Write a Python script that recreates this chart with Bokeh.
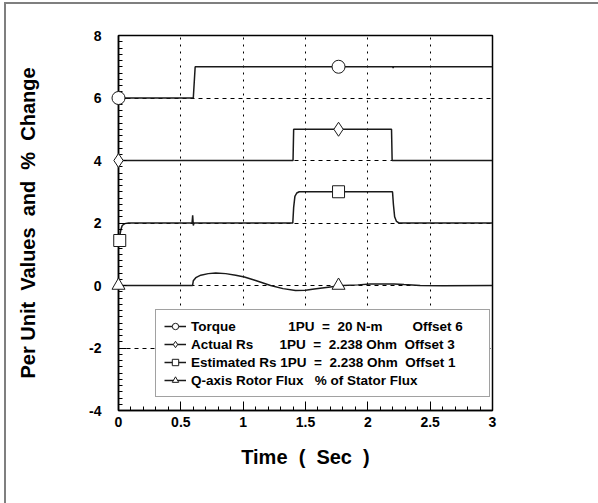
from bokeh.plotting import figure
from bokeh.models import Range1d, SingleIntervalTicker, Legend, LegendItem
from bokeh.embed import file_html
from bokeh.resources import INLINE

# ---------------- data ----------------
torque_t = [0.0, 0.6, 0.615, 2.2, 2.203, 2.206, 3.0]
torque_y = [6.0, 6.0, 7.0, 7.0, 6.96, 7.0, 7.0]

actual_rs_t = [0.0, 1.4, 1.405, 2.19, 2.195, 3.0]
actual_rs_y = [4.0, 4.0, 5.0, 5.0, 4.0, 4.0]

est_rs_t = [0.0, 0.01, 0.02, 0.03, 0.05, 0.08, 0.59, 0.595, 0.6, 0.605,
            1.398, 1.405, 1.415, 1.43, 1.45, 1.48, 2.198, 2.205, 2.215,
            2.23, 2.25, 3.0]
est_rs_y = [1.3, 1.6, 1.8, 1.92, 1.98, 2.0, 2.0, 2.25, 1.92, 2.0,
            2.0, 2.5, 2.85, 2.96, 3.0, 3.0, 3.0, 2.6, 2.2, 2.05, 2.0, 2.0]

flux_t = [0.0, 0.594, 0.6, 0.62, 0.66, 0.72, 0.78, 0.86, 0.94, 1.01, 1.1,
          1.22, 1.32, 1.42, 1.5, 1.57, 1.65, 1.73, 1.8, 1.92, 2.02, 2.12,
          2.21, 2.29, 2.42, 2.6, 3.0]
flux_y = [0.0, 0.0, 0.15, 0.25, 0.33, 0.38, 0.4, 0.38, 0.33, 0.27, 0.16,
          0.0, -0.1, -0.16, -0.15, -0.11, -0.07, -0.03, 0.0, 0.02, 0.05,
          0.05, 0.05, 0.03, 0.0, -0.01, 0.0]

# marker positions
torque_mk_t = [0.0, 1.765]
torque_mk_y = [6.0, 7.0]
actual_mk_t = [0.0, 1.765]
actual_mk_y = [4.0, 5.0]
est_mk_t = [0.01, 1.765]
est_mk_y = [1.44, 3.0]
flux_mk_t = [0.0, 1.765]
flux_mk_y = [0.0, 0.0]

x_ticks = [0, 0.5, 1, 1.5, 2, 2.5, 3]
x_tick_labels = ["0", "0.5", "1", "1.5", "2", "2.5", "3"]
y_ticks = [-4, -2, 0, 2, 4, 6, 8]
y_tick_labels = ["-4", "-2", "0", "2", "4", "6", "8"]

NB = "\u00a0"
legend_labels = [
    "Torque" + NB * 14 + "1PU" + NB * 2 + "=" + NB * 2 + "20 N-m" + NB * 8 + "Offset 6" + NB * 5,
    "Actual Rs" + NB * 7 + "1PU" + NB * 2 + "=" + NB * 2 + "2.238 Ohm" + NB * 2 + "Offset 3",
    "Estimated Rs 1PU" + NB * 2 + "=" + NB * 2 + "2.238 Ohm" + NB * 2 + "Offset 1",
    "Q-axis Rotor Flux" + NB * 3 + "% of Stator Flux",
]

FONT = "Liberation Sans"
INK = "#1a1a1a"

p = figure(width=594, height=501, output_backend="svg", toolbar_location=None,
           x_range=Range1d(0, 3), y_range=Range1d(-4, 8),
           min_border_left=112, min_border_right=108,
           min_border_top=31, min_border_bottom=95)
# outer page frame: only its left and top edges are inside the picture
p.styles = {"margin-left": "4px", "margin-top": "2px",
            "border-left": "2px solid #7f7f7f", "border-top": "2px solid #7f7f7f"}
p.background_fill_color = "white"
p.border_fill_color = "white"
p.outline_line_color = "black"
p.outline_line_width = 1.5

p.xaxis.ticker = SingleIntervalTicker(interval=0.5, num_minor_ticks=5)
p.yaxis.ticker = SingleIntervalTicker(interval=2, num_minor_ticks=10)
p.xaxis.major_label_overrides = {t: s for t, s in zip(x_ticks, x_tick_labels)}
p.yaxis.major_label_overrides = {t: s for t, s in zip(y_ticks, y_tick_labels)}

for ax in (p.xaxis[0], p.yaxis[0]):
    ax.axis_line_color = "black"
    ax.axis_line_width = 1.5
    ax.major_tick_in = 8
    ax.major_tick_out = 0
    ax.minor_tick_in = 4
    ax.minor_tick_out = 0
    ax.major_tick_line_color = "black"
    ax.minor_tick_line_color = "black"
    ax.major_tick_line_width = 1
    ax.minor_tick_line_width = 1
    ax.major_label_text_font = FONT
    ax.major_label_text_font_style = "bold"
    ax.major_label_text_font_size = "14px"
    ax.major_label_text_color = "black"
    ax.axis_label_text_font = FONT
    ax.axis_label_text_font_style = "bold"
    ax.axis_label_text_font_size = "20px"
    ax.axis_label_text_color = "black"

p.xaxis.axis_label = "Time" + NB * 2 + "(" + NB * 2 + "Sec" + NB * 2 + ")"
p.yaxis.axis_label = "Per Unit" + NB * 2 + "Values" + NB * 2 + "and" + NB * 2 + "%" + NB * 2 + "Change"
p.xaxis.major_label_standoff = 6
p.yaxis.major_label_standoff = 17
p.xaxis.axis_label_standoff = 16
p.yaxis.axis_label_standoff = 47

p.xgrid.grid_line_color = "black"
p.xgrid.grid_line_dash = "2 5"
p.xgrid.grid_line_width = 1
p.ygrid.grid_line_color = "black"
p.ygrid.grid_line_dash = "4 4"
p.ygrid.grid_line_width = 1

lw = 1.5
r_tq = p.line(torque_t, torque_y, line_color=INK, line_width=lw)
r_ar = p.line(actual_rs_t, actual_rs_y, line_color=INK, line_width=lw)
r_er = p.line(est_rs_t, est_rs_y, line_color=INK, line_width=lw)
r_fl = p.line(flux_t, flux_y, line_color=INK, line_width=lw)

mk_kw = dict(fill_color="white", line_color=INK, line_width=1, level="overlay")
m_tq = p.scatter(torque_mk_t, torque_mk_y, marker="circle", size=13, **mk_kw)
m_ar = p.scatter(actual_mk_t, actual_mk_y, marker="diamond", size=14, **mk_kw)
m_er = p.scatter(est_mk_t, est_mk_y, marker="square", size=12, **mk_kw)
m_fl = p.scatter(flux_mk_t, flux_mk_y, marker="triangle", size=13, **mk_kw)

items = []
for lab, lr, mr in zip(legend_labels, [r_tq, r_ar, r_er, r_fl], [m_tq, m_ar, m_er, m_fl]):
    items.append(LegendItem(label=lab, renderers=[lr, mr]))

legend = Legend(items=items, location=(37, 13), margin=0, padding=8,
                spacing=2, glyph_height=16, glyph_width=22, label_standoff=5,
                label_height=16,
                label_text_font=FONT, label_text_font_style="bold",
                label_text_font_size="13.5px", label_text_color="black",
                border_line_color="#444", border_line_width=1.2,
                background_fill_color="white", background_fill_alpha=1)
p.add_layout(legend, "center")

open("out.html", "w").write(file_html(p, INLINE))
